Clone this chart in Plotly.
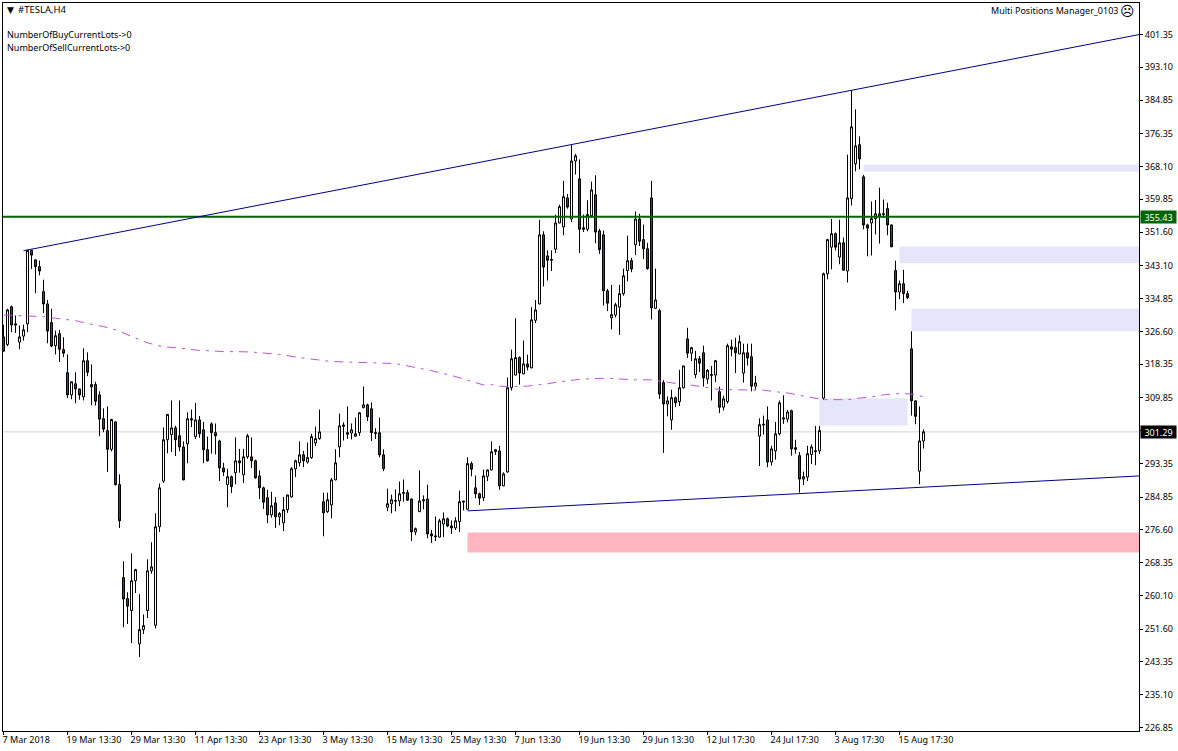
import plotly.graph_objects as go

highs = [
328.3,332.3,333.1,330.6,328.1,328.3,347.1,347.1,344.7,344.4,
339.6,334.5,332.3,326.8,327.0,325.1,320.8,314.0,316.3,312.2,
322.3,321.3,318.3,313.9,311.5,307.2,307.7,304.6,304.0,290.6,
268.7,260.9,270.7,266.8,260.4,255.3,269.2,273.5,280.8,288.3,
302.4,305.8,309.2,302.8,309.2,298.9,306.2,306.9,308.6,305.3,
303.8,300.1,303.7,303.4,299.3,293.5,292.0,290.3,299.9,297.0,
297.0,300.8,299.9,294.3,291.6,287.5,286.7,286.2,284.9,281.1,
284.9,285.5,292.4,294.3,298.9,296.5,298.6,300.8,302.6,306.9,
286.0,286.0,289.7,296.9,305.9,303.7,307.7,303.4,304.9,306.3,
312.7,308.4,308.7,302.2,304.9,296.9,287.0,285.5,286.8,288.8,
289.3,286.7,284.5,277.2,291.6,285.3,288.0,276.6,280.0,279.4,
281.0,279.7,279.0,279.8,286.5,284.0,294.9,293.8,290.3,286.0,
291.8,291.8,298.9,297.0,297.8,291.1,315.0,322.0,329.9,320.3,
324.3,320.7,332.7,334.5,354.7,351.8,347.0,347.0,356.0,358.5,
364.5,361.2,373.5,371.3,369.9,356.0,359.6,364.3,365.9,352.4,
352.0,337.3,338.3,333.8,338.3,342.4,350.7,345.1,356.8,356.2,
353.5,348.9,364.5,342.4,332.3,314.3,310.2,311.9,310.2,316.9,
317.9,327.5,322.7,321.7,320.4,323.0,317.1,317.9,319.4,312.7,
310.4,323.5,324.5,325.0,325.6,323.5,323.5,323.5,315.4,304.7,
305.4,307.7,297.8,303.8,309.2,310.5,306.8,306.9,299.3,296.2,
291.3,297.8,298.1,302.8,302.8,341.4,349.9,354.9,351.5,354.7,
350.2,371.1,387.3,382.5,375.7,366.0,353.7,359.3,359.7,362.8,
359.8,359.0,353.5,344.4,339.4,342.1,336.8,326.6,309.2,307.7,301.9,
]
body_tops = [
325.2,332.0,332.8,328.5,325.2,327.0,347.0,347.0,344.6,342.9,
336.6,333.5,328.8,325.5,326.0,322.0,316.2,313.9,313.4,312.1,
319.2,319.2,313.2,313.2,310.6,304.6,301.6,304.4,303.8,288.0,
264.6,259.3,263.8,266.6,251.5,252.5,266.3,267.3,277.4,287.2,
299.3,305.7,302.3,302.3,300.3,297.5,304.6,304.6,304.3,304.3,
301.8,296.8,303.3,301.1,299.0,292.2,290.0,290.0,294.0,294.0,
295.0,300.3,295.0,294.0,290.2,287.2,284.7,282.7,283.4,280.7,
281.7,285.4,292.0,294.0,295.5,295.5,294.8,300.1,299.6,301.3,
283.7,284.2,289.2,293.5,302.8,303.0,301.1,301.8,300.8,306.1,
308.1,308.1,307.1,301.1,301.1,295.5,283.2,284.2,283.95,285.7,
286.0,286.0,284.4,276.9,283.9,284.2,284.4,275.6,275.1,278.9,
279.4,279.4,277.6,278.9,283.7,283.8,293.3,293.3,287.2,285.7,
290.2,291.7,296.3,296.8,296.5,290.7,312.4,319.7,320.0,320.0,
318.4,318.4,329.5,332.0,350.9,350.9,345.6,344.7,353.9,358.0,
360.5,360.2,369.5,370.8,365.0,352.7,356.0,362.2,361.0,351.9,
350.9,336.8,330.8,333.3,336.1,340.6,344.4,344.4,354.9,354.9,
349.7,347.4,360.2,334.5,331.8,313.7,309.1,309.9,309.9,312.4,
317.9,324.7,322.5,319.7,319.7,321.2,316.8,315.7,319.2,311.4,
309.6,323.0,322.7,322.5,324.0,321.2,321.2,320.2,313.6,303.1,
303.2,304.3,297.0,300.8,308.6,304.8,306.3,306.6,297.3,295.3,
290.0,295.8,297.5,296.5,301.6,341.1,349.7,351.2,351.2,348.9,
348.9,360.2,378.1,373.3,373.6,365.5,353.4,355.0,356.2,356.2,
356.2,357.5,353.4,341.9,338.6,338.6,336.1,322.2,309.1,299.0,301.3,
]
body_bottoms = [
321.6,323.3,328.2,328.2,323.9,325.4,328.5,345.8,342.9,341.8,
333.5,326.7,322.9,323.0,322.1,321.1,310.6,310.6,312.1,310.6,
310.1,316.3,312.6,309.0,304.5,302.0,296.9,296.9,288.0,278.9,
259.2,257.4,256.3,263.8,247.9,251.5,256.3,266.3,252.6,277.4,
288.9,299.3,300.6,299.3,297.5,289.2,298.3,304.3,300.1,300.8,
296.8,294.0,301.1,300.3,292.2,291.2,288.0,287.5,291.0,293.5,
290.5,295.0,294.0,289.7,287.2,283.6,280.4,280.4,279.9,279.9,
278.4,281.7,284.9,292.0,293.5,294.0,293.7,294.8,298.5,299.6,
280.9,281.2,282.9,289.2,297.5,302.7,300.7,301.0,300.2,301.1,
307.4,305.1,301.1,300.9,295.5,292.0,282.3,283.2,283.85,283.9,
285.8,284.1,276.1,276.1,281.2,283.9,275.6,275.1,274.9,274.8,
278.1,277.6,277.1,277.1,278.7,283.6,281.8,291.9,285.7,284.6,
284.7,290.1,291.7,296.3,287.7,287.7,291.2,312.4,315.6,316.1,
315.9,317.6,317.4,329.4,333.5,342.8,344.5,344.5,347.3,353.9,
352.9,357.9,354.9,369.5,352.3,352.3,352.3,355.7,351.6,347.2,
336.8,333.7,330.0,330.7,332.7,336.1,341.9,342.3,348.4,349.3,
347.4,342.4,332.5,332.4,310.8,308.3,308.3,304.3,308.6,308.9,
312.4,321.1,321.1,315.7,318.6,314.9,314.6,315.5,315.6,307.5,
307.5,308.9,322.1,321.2,320.9,316.1,319.9,312.8,312.8,300.2,
303.0,293.7,293.7,296.5,300.8,304.5,304.5,297.0,296.9,289.4,
289.4,289.9,295.6,296.3,296.5,309.8,341.1,347.8,347.8,345.3,
342.0,341.8,360.0,368.8,370.0,353.4,352.6,353.9,355.0,355.7,
356.0,353.4,347.9,336.5,336.5,336.1,335.1,309.1,305.2,291.4,299.0,
]
lows = [
321.6,322.9,326.4,326.2,322.1,324.3,326.4,342.3,336.2,340.7,
331.2,323.6,322.6,320.8,318.9,320.1,309.8,309.5,308.5,309.4,
309.2,315.3,308.0,307.9,300.2,301.2,291.2,296.4,287.8,277.1,
252.1,252.9,248.1,260.7,244.6,250.4,254.4,265.6,251.8,276.1,
288.4,295.9,296.2,295.2,296.4,289.1,293.4,302.5,299.5,299.8,
293.4,293.8,295.8,295.6,288.9,290.2,282.3,285.9,288.1,291.0,
288.4,294.5,292.2,289.5,284.4,281.9,278.3,279.7,277.1,277.8,
276.3,280.9,284.7,289.9,292.6,292.4,293.3,294.5,297.7,299.3,
275.0,280.9,279.5,289.1,294.9,299.1,299.5,299.4,300.0,300.3,
307.2,304.0,299.0,299.5,294.9,291.4,281.3,280.8,281.3,282.6,
283.7,283.9,273.8,275.3,281.1,281.8,274.5,273.3,273.8,274.7,
274.8,277.3,275.6,276.6,276.1,281.5,281.7,290.1,284.6,282.9,
283.9,288.9,291.6,295.5,286.7,287.6,291.0,311.7,315.5,313.2,
315.8,316.8,317.3,328.7,333.4,337.9,339.4,341.8,346.3,353.8,
350.8,357.5,354.1,366.1,346.3,351.6,351.8,355.2,348.8,346.1,
333.1,331.7,327.1,330.1,325.7,335.6,339.2,341.5,345.8,348.1,
344.8,342.1,329.6,332.2,309.6,296.0,305.2,301.8,307.5,307.8,
312.2,319.9,319.1,314.8,316.4,312.7,313.4,309.2,313.8,306.0,
306.7,308.4,320.3,316.1,320.8,313.7,318.0,311.5,311.9,292.7,
300.6,292.4,292.8,294.3,300.4,303.3,303.7,295.3,295.8,286.0,
287.9,288.9,293.2,292.9,295.7,309.4,339.7,342.2,347.0,343.5,
342.0,338.9,358.3,366.9,367.4,352.3,345.5,345.7,351.0,348.7,
355.2,350.8,347.8,331.9,334.7,333.7,334.7,305.4,303.2,288.1,297.1,
]
bar_kinds = (
"RWRRWWWRRR" "RRRWRRRWRR" "WRWRRRRWRR" "RRWWWWWWWW"
"WWWRRRWRWR" "RRRRRRWRWR" "WWRRRRRWRW" "WWWWWRWWWW"
"RWWWWWRWWW" "WRRRRRWWWW" "WRRWWWRRRW" "WRRWWWWRRR"
"WWWWRWWWWR" "WRWWWRRWWW" "WRWWRRWWRR" "RRWWWWWRWR"
"RRRWRRWWRW" "WRWWRRWWWR" "WWRRWWRRWW" "WRWWWWWRRR"
"WWWWWWWWRW" "RWWWRRRWWW" "WRRRWRRRRWW"
)
bar_positions = list(range(len(highs)))
assert len(highs) == len(lows) == len(body_tops) == len(body_bottoms) == len(bar_kinds) == 231
opens = [b if k == "W" else t for t, b, k in zip(body_tops, body_bottoms, bar_kinds)]
closes = [t if k == "W" else b for t, b, k in zip(body_tops, body_bottoms, bar_kinds)]

ma_bars = [0,5,7,10,13,15,18,20,23,25,28,30,32,34,36,38,40,43,46,49,52,55,58,62,69,74,82,89,98,102,107,112,116,
           118,120,122,124,126,128,131,134,136,139,142,144,147,151,154,158,162,165,168,171,174,176,178,181,184,187,190,
           193,196,199,202,205,208,211,214,217,220,223,226,228,230]
ma_values = [330.7,330.5,330.5,330.3,329.9,329.6,329.3,328.8,328.3,327.8,327.0,326.2,325.2,324.6,323.7,323.2,322.7,322.5,
             322.2,321.8,321.7,321.5,321.5,321.4,320.8,320.0,319.0,318.8,318.5,317.7,316.7,315.5,314.3,
             313.6,313.1,313.2,312.8,312.7,312.7,312.8,313.2,313.4,313.9,314.3,314.5,314.7,314.8,314.6,314.4,314.4,313.9,313.5,
             313.2,312.7,312.4,312.1,311.9,311.9,311.9,311.8,311.4,311.1,310.5,309.9,309.4,309.4,309.4,309.8,310.1,310.6,310.9,
             310.9,310.7,310.1]

x_ticks = list(range(0, 225, 16))
x_labels = ["7 Mar 2018","19 Mar 13:30","29 Mar 13:30","11 Apr 13:30","23 Apr 13:30","3 May 13:30","15 May 13:30",
            "25 May 13:30","7 Jun 13:30","19 Jun 13:30","29 Jun 13:30","12 Jul 17:30","24 Jul 17:30","3 Aug 17:30","15 Aug 17:30"]
y_ticks = [401.35,393.10,384.85,376.35,368.10,359.85,351.60,343.10,334.85,326.60,318.35,309.85,301.60,293.35,284.85,
           276.60,268.35,260.10,251.60,243.35,235.10,226.85]
y_labels = ["%.2f" % v for v in y_ticks]
y_labels[12] = ""

support_price = 355.43
bid_price = 301.29
upper_trend = [(5, 346.9), (284, 401.35)]
lower_trend = [(116, 281.4), (284, 290.2)]
supply_zones = [(215, 284, 366.8, 368.6), (224, 284, 343.76, 347.97), (227, 284, 326.6, 332.35), (204, 226, 302.9, 309.77)]
demand_zones = [(116, 284, 270.9, 275.95)]

W, H = 1178, 751
L, R, T, B = 3, 39, 3, 20
FONT = "Noto Sans"
FS = 9

fig = go.Figure()
fig.add_trace(go.Candlestick(
    x=bar_positions, open=opens, high=highs, low=lows, close=closes,
    increasing=dict(line=dict(color="black", width=1), fillcolor="white"),
    decreasing=dict(line=dict(color="black", width=1), fillcolor="#e00000"),
    whiskerwidth=0, showlegend=False, hoverinfo="skip",
))
fig.add_trace(go.Scatter(
    x=ma_bars, y=ma_values, mode="lines", showlegend=False, hoverinfo="skip",
    line=dict(color="#ba55d3", width=1, dash="9px,6px,3px,6px"),
))

shapes = []
for x0, x1, y0, y1 in supply_zones:
    shapes.append(dict(type="rect", x0=x0, x1=x1, y0=y0, y1=y1, fillcolor="#e6e6fa", line_width=0, layer="below"))
for x0, x1, y0, y1 in demand_zones:
    shapes.append(dict(type="rect", x0=x0, x1=x1, y0=y0, y1=y1, fillcolor="#ffb6c1", line_width=0, layer="below"))
shapes.append(dict(type="line", xref="paper", x0=0, x1=1, y0=bid_price, y1=bid_price, line=dict(color="#d3d3d3", width=1), layer="below"))
shapes.append(dict(type="line", xref="paper", x0=0, x1=1, y0=support_price, y1=support_price, line=dict(color="#006400", width=2)))
for tr in (upper_trend, lower_trend):
    shapes.append(dict(type="line", x0=tr[0][0], y0=tr[0][1], x1=tr[1][0], y1=tr[1][1], line=dict(color="#000080", width=1)))

def px(x):
    return (x - L) / (W - L - R)
def py(y):
    return 1 - (y - T) / (H - T - B)

annotations = [
    dict(text="▼", x=px(5), y=py(10), xanchor="left", font=dict(size=9, color="black", family="DejaVu Sans")),
    dict(text="#TESLA,H4", x=px(16), y=py(10), xanchor="left", font=dict(size=9.5, color="black")),
    dict(text="NumberOfBuyCurrentLots->0", x=px(5), y=py(35), xanchor="left", font=dict(size=FS, color="black")),
    dict(text="NumberOfSellCurrentLots->0", x=px(5), y=py(47), xanchor="left", font=dict(size=FS, color="black")),
    dict(text="Multi Positions Manager_0103", x=px(1120), y=py(11), xanchor="right", font=dict(size=FS, color="black")),
    dict(text="☹", x=px(1127), y=py(11), xanchor="center", font=dict(size=14, color="black", family="DejaVu Sans")),
    dict(text="%.2f" % support_price, x=px(1158), y=support_price, yref="y", xanchor="center", bgcolor="#006400",
         borderpad=1, font=dict(size=FS, color="white"), width=33, height=10),
    dict(text="%.2f" % bid_price, x=px(1158), y=bid_price, yref="y", xanchor="center", bgcolor="black",
         borderpad=1, font=dict(size=FS, color="white"), width=33, height=10),
]
for a in annotations:
    a.setdefault("xref", "paper")
    a.setdefault("yref", "paper")
    a["showarrow"] = False
    a["yanchor"] = "middle"

fig.update_layout(
    width=W, height=H, margin=dict(l=L, r=R, t=T, b=B, pad=0, autoexpand=False),
    paper_bgcolor="white", plot_bgcolor="white",
    font=dict(family=FONT, size=FS, color="black"),
    boxgap=0.5, boxgroupgap=0, showlegend=False,
    shapes=shapes, annotations=annotations, hovermode=False,
    xaxis=dict(range=[-0.125, 283.875], rangeslider=dict(visible=False), showgrid=False, zeroline=False,
               tickmode="array", tickvals=x_ticks, ticktext=x_labels, ticks="outside", ticklen=3, tickcolor="black",
               ticklabelposition="outside right", ticklabelshift=-2, tickangle=0, showline=True, linecolor="black", linewidth=1, mirror=True,
               tickfont=dict(size=FS)),
    yaxis=dict(range=[225.97, 409.28], side="right", showgrid=False, zeroline=False,
               tickmode="array", tickvals=y_ticks, ticktext=y_labels, ticks="outside", ticklen=3, tickcolor="black",
               showline=True, linecolor="black", linewidth=1, mirror=True, tickfont=dict(size=FS)),
)

fig.write_html("out.html", config=dict(displayModeBar=False),
               post_script="document.body.style.margin='0';document.body.style.overflow='hidden';")
